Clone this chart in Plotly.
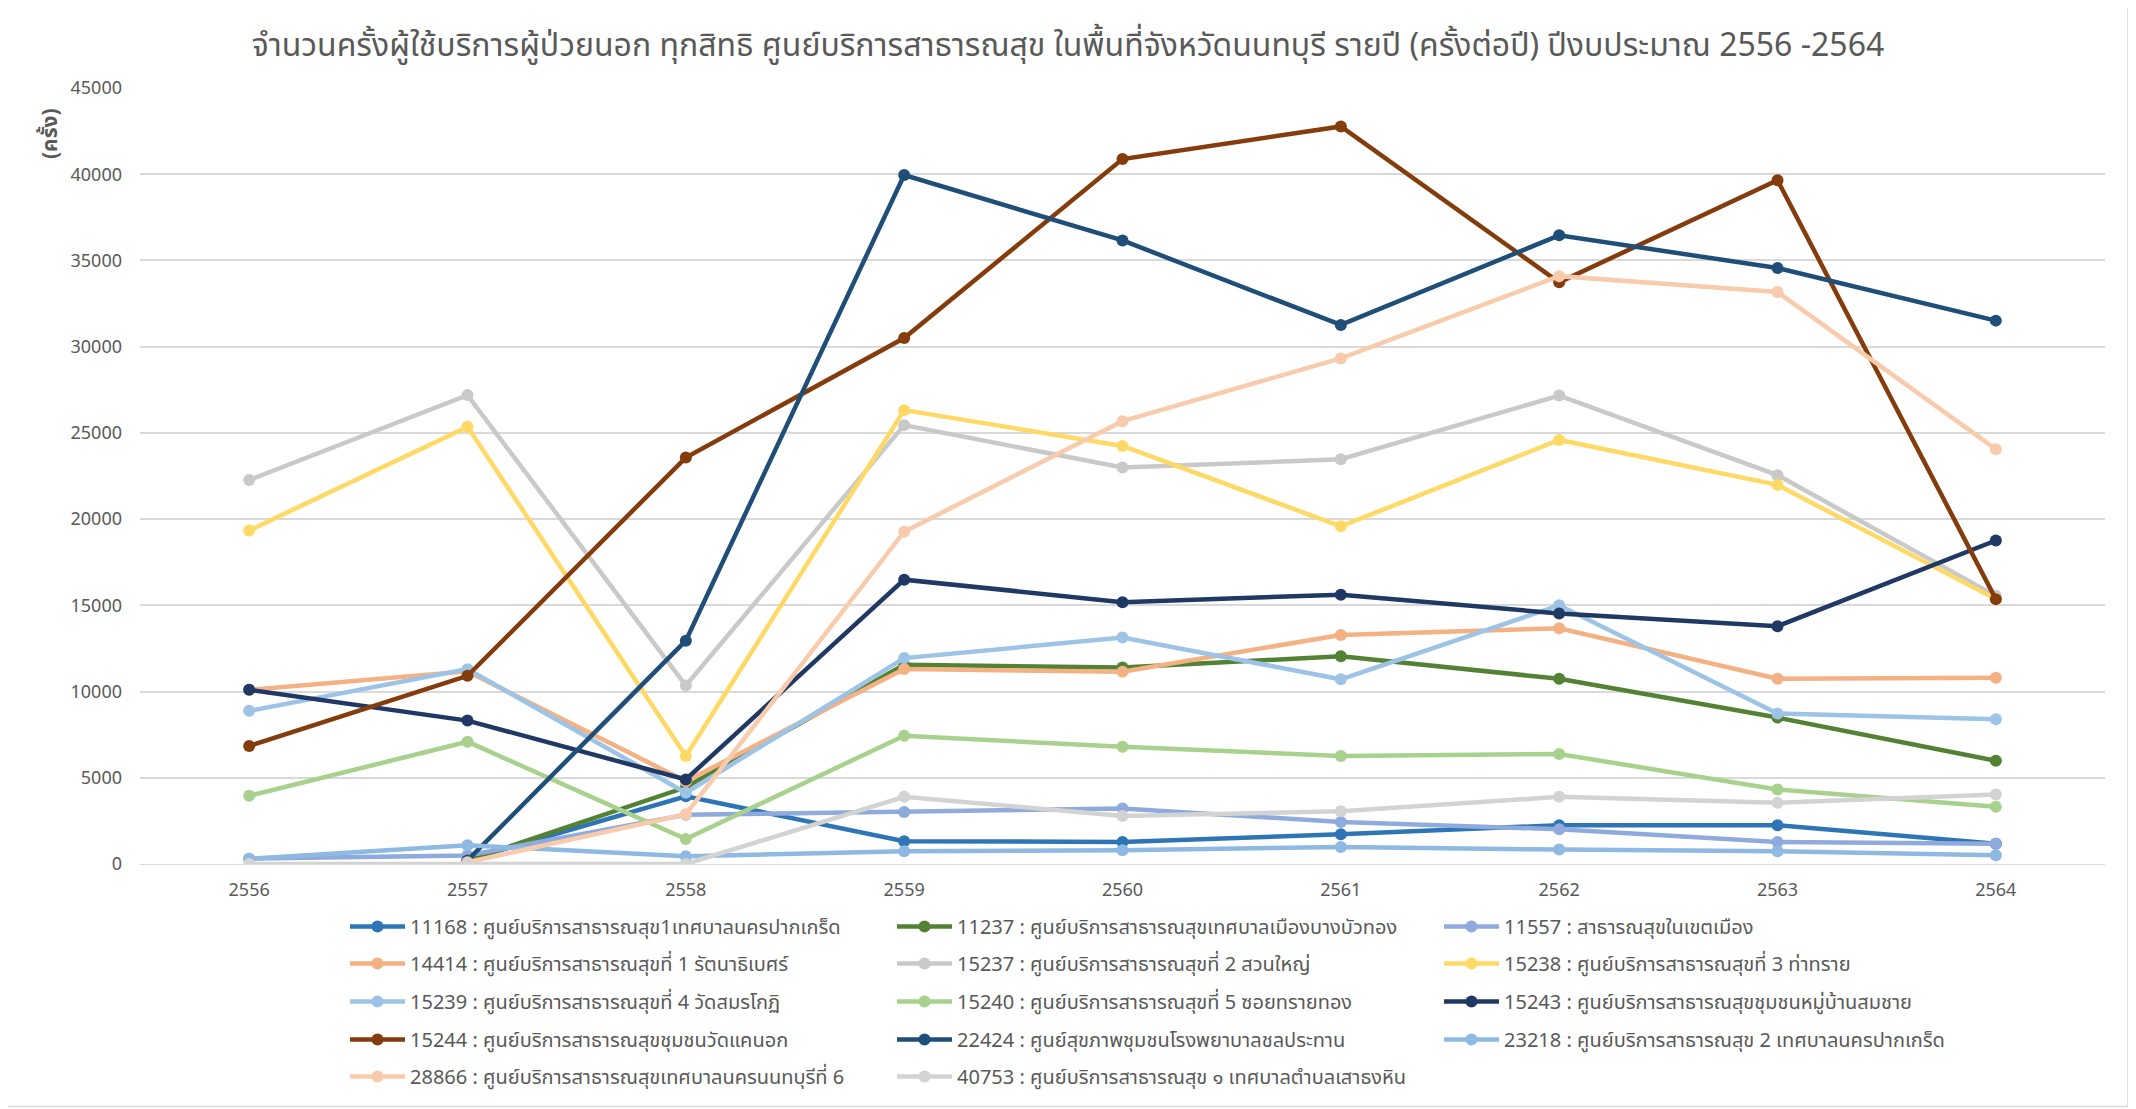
import plotly.graph_objects as go

years = ["2556", "2557", "2558", "2559", "2560", "2561", "2562", "2563", "2564"]

names = [
    "11168 : ศูนย์บริการสาธารณสุข1เทศบาลนครปากเกร็ด",
    "11237 : ศูนย์บริการสาธารณสุขเทศบาลเมืองบางบัวทอง",
    "11557 : สาธารณสุขในเขตเมือง",
    "14414 : ศูนย์บริการสาธารณสุขที่ 1 รัตนาธิเบศร์",
    "15237 : ศูนย์บริการสาธารณสุขที่ 2 สวนใหญ่",
    "15238 : ศูนย์บริการสาธารณสุขที่ 3 ท่าทราย",
    "15239 : ศูนย์บริการสาธารณสุขที่ 4 วัดสมรโกฏิ",
    "15240 : ศูนย์บริการสาธารณสุขที่ 5 ซอยทรายทอง",
    "15243 : ศูนย์บริการสาธารณสุขชุมชนหมู่บ้านสมชาย",
    "15244 : ศูนย์บริการสาธารณสุขชุมชนวัดแคนอก",
    "22424 : ศูนย์สุขภาพชุมชนโรงพยาบาลชลประทาน",
    "23218 : ศูนย์บริการสาธารณสุข 2 เทศบาลนครปากเกร็ด",
    "28866 : ศูนย์บริการสาธารณสุขเทศบาลนครนนทบุรีที่ 6",
    "40753 : ศูนย์บริการสาธารณสุข ๑ เทศบาลตำบลเสาธงหิน",
]

s11168 = [None, 250, 3930, 1320, 1280, 1725, 2250, 2250, 1180]
s11237 = [None, 200, 4450, 11550, 11390, 12045, 10740, 8490, 5990]
s11557 = [310, 500, 2850, 3020, 3215, 2440, 2015, 1280, 1180]
s14414 = [10100, 11170, 4800, 11310, 11150, 13285, 13670, 10740, 10800]
s15237 = [22270, 27190, 10350, 25450, 22990, 23470, 27165, 22550, 15550]
s15238 = [19340, 25350, 6260, 26320, 24245, 19580, 24590, 21985, 15360]
s15239 = [8880, 11300, 4130, 11940, 13130, 10710, 15000, 8730, 8400]
s15240 = [3955, 7090, 1450, 7435, 6800, 6265, 6375, 4320, 3315]
s15243 = [10100, 8315, 4900, 16490, 15185, 15620, 14530, 13790, 18760]
s15244 = [6845, 10910, 23570, 30500, 40880, 42770, 33730, 39650, 15360]
s22424 = [None, 210, 12950, 39950, 36160, 31260, 36455, 34560, 31510]
s23218 = [300, 1085, 445, 735, 795, 990, 835, 735, 505]
s28866 = [None, 100, 2890, 19270, 25680, 29320, 34090, 33170, 24055]
s40753 = [0, 0, 0, 3895, 2790, 3060, 3895, 3545, 4030]

series = [s11168, s11237, s11557, s14414, s15237, s15238, s15239, s15240,
          s15243, s15244, s22424, s23218, s28866, s40753]

colors = ["#2E75B6", "#548235", "#8FAADC", "#F4B183", "#C9C9C9", "#FFD966",
          "#9DC3E6", "#A9D18E", "#203864", "#843C0C", "#1F4E79", "#8DB9E2",
          "#F8CBAD", "#D3D3D3"]

yticks = [0, 5000, 10000, 15000, 20000, 25000, 30000, 35000, 40000, 45000]

title_text = "จำนวนครั้งผู้ใช้บริการผู้ป่วยนอก ทุกสิทธิ ศูนย์บริการสาธารณสุข ในพื้นที่จังหวัดนนทบุรี รายปี (ครั้งต่อปี) ปีงบประมาณ 2556 -2564"
ytitle = "(ครั้ง)"

FONT = "Tahoma, 'Leelawadee UI', 'Noto Sans Thai', 'Noto Sans', 'DejaVu Sans', sans-serif"

W, H = 2136, 1109
# page is offset by the 8px body margin
L, R, T = 132, 39, 80
B = H - 855.6
PW = W - L - R
PH = H - T - B

legend_ids = ["legend", "legend2", "legend3", "legend4", "legend5"]

fig = go.Figure()
for i, (name, vals, col) in enumerate(zip(names, series, colors)):
    fig.add_trace(go.Scatter(
        x=years, y=vals, name=name, mode="lines+markers",
        line=dict(color=col, width=4.5),
        marker=dict(color=col, size=12),
        connectgaps=False,
        legend=legend_ids[i // 3],
    ))

row_y = [918, 955, 993, 1031, 1068]  # figure px, row centres
leg_x = (337 - L) / PW

legends = {}
for k, lid in enumerate(legend_ids):
    legends[lid] = dict(orientation="h", x=leg_x, xanchor="left",
                        y=(855.6 - row_y[k]) / PH, yanchor="middle",
                        entrywidth=477, entrywidthmode="pixels",
                        itemwidth=55, bgcolor="rgba(0,0,0,0)",
                        font=dict(size=20, color="#595959", family=FONT))

fig.update_layout(
    width=W, height=H,
    margin=dict(l=L, r=R, t=T, b=B),
    paper_bgcolor="white", plot_bgcolor="white",
    font=dict(family=FONT, color="#595959", size=18),
    title=dict(text=title_text, x=1060 / W, xanchor="center", y=1 - 37 / H, yanchor="middle",
               font=dict(size=32, color="#595959", family=FONT)),
    showlegend=True,
    xaxis=dict(type="category", range=[-0.5, 8.5], showgrid=False, zeroline=False,
               showline=True, linecolor="#D9D9D9", linewidth=1,
               ticks="", tickfont=dict(size=18, color="#595959"),
               ticklabelstandoff=9),
    yaxis=dict(range=[0, 45000], tickvals=yticks, ticktext=[str(v) for v in yticks],
               showgrid=True, gridcolor="#D9D9D9", gridwidth=1.5, zeroline=False,
               showline=False, ticks="", tickfont=dict(size=18, color="#595959"),
               ticklabelstandoff=17),
    **legends,
)

fig.add_annotation(text="<b>" + ytitle + "</b>", textangle=-90, xref="paper", yref="paper",
                   x=(42 - L) / PW, y=(855.6 - 126) / PH,
                   xanchor="center", yanchor="middle", showarrow=False,
                   font=dict(size=21, color="#595959", family=FONT))

# chart-area border
fig.add_shape(type="rect", xref="paper", yref="paper",
              x0=(-1 - L) / PW, x1=(2120 - L) / PW,
              y0=(855.6 - 1098) / PH, y1=(855.6 + 7) / PH,
              line=dict(color="#D9D9D9", width=1.5), layer="below")

fig.write_html("out.html")
